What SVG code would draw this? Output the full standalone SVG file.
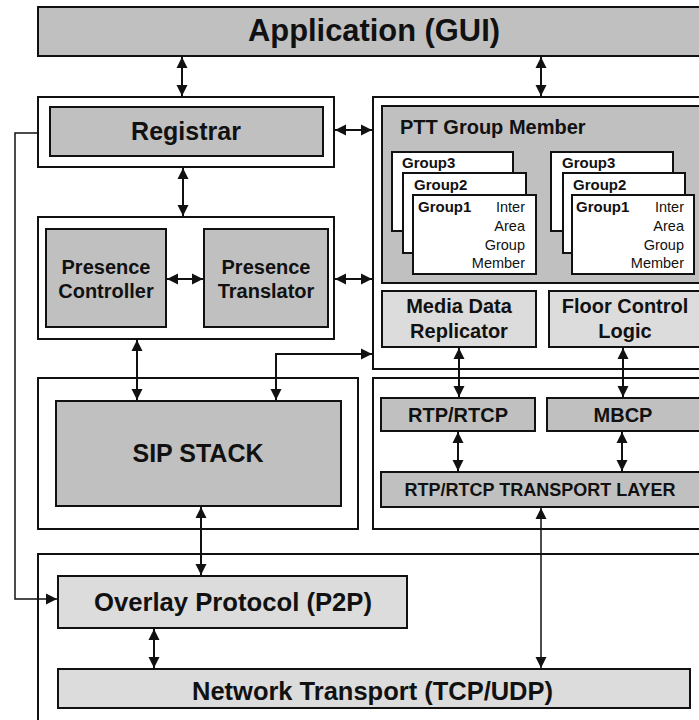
<svg xmlns="http://www.w3.org/2000/svg" width="699" height="720" viewBox="0 0 699 720">
  <style>
    .frame { fill: #ffffff; stroke: #111111; stroke-width: 2; }
    .dark { fill: #c0c0c0; stroke: #111111; stroke-width: 2; }
    .light { fill: #dcdcdc; stroke: #111111; stroke-width: 2; }
    .card { fill: #ffffff; stroke: #111111; stroke-width: 2; }
    .t { font-family: "Liberation Sans", Arial, sans-serif; font-weight: bold; fill: #111111; text-anchor: middle; }
    .s { font-family: "Liberation Sans", Arial, sans-serif; font-weight: bold; fill: #111111; }
    .g { font-family: "Liberation Sans", Arial, sans-serif; font-weight: bold; fill: #111111; font-size: 15px; }
    .r { font-family: "Liberation Sans", Arial, sans-serif; fill: #111111; font-size: 14.5px; text-anchor: end; }
    .wire { fill: none; stroke: #111111; stroke-width: 2; }
    .thin { fill: none; stroke: #111111; stroke-width: 1.5; }
  </style>
  <defs>
    <marker id="head" markerUnits="userSpaceOnUse" markerWidth="12" markerHeight="12" refX="11" refY="5.5" orient="auto-start-reverse" viewBox="0 0 12 11">
      <path d="M0,0 L11,5.5 L0,11 z" fill="#111111"/>
    </marker>
  </defs>

  <g id="application">
    <rect class="dark" x="38" y="7" width="670" height="49"/>
    <text class="s" x="248" y="41" font-size="31" textLength="252" lengthAdjust="spacingAndGlyphs">Application (GUI)</text>
  </g>

  <g id="registrar">
    <rect class="frame" x="38" y="97" width="296" height="70"/>
    <rect class="dark" x="50" y="107" width="273" height="49"/>
    <text class="t" x="186" y="140" font-size="25">Registrar</text>
  </g>

  <g id="presence">
    <rect class="frame" x="38" y="217" width="296" height="122"/>
    <g id="presence-controller">
      <rect class="dark" x="46" y="229" width="120" height="98"/>
      <text class="t" x="106" y="274" font-size="20">Presence</text>
      <text class="t" x="106" y="298" font-size="20">Controller</text>
    </g>
    <g id="presence-translator">
      <rect class="dark" x="204" y="229" width="124" height="98"/>
      <text class="t" x="266" y="274" font-size="20">Presence</text>
      <text class="t" x="266" y="298" font-size="20">Translator</text>
    </g>
  </g>

  <g id="ptt">
    <rect class="frame" x="373" y="97" width="340" height="272"/>
    <g id="ptt-group-member">
      <rect class="dark" x="382" y="106" width="330" height="177"/>
      <text class="s" x="400" y="134" font-size="20">PTT Group Member</text>
      <g id="groups-a">
        <rect class="card" x="392" y="152" width="121" height="79"/>
        <text class="g" x="402" y="168">Group3</text>
        <rect class="card" x="403" y="173" width="123" height="80"/>
        <text class="g" x="414" y="190">Group2</text>
        <rect class="card" x="413" y="195" width="123" height="79"/>
        <text class="g" x="418" y="212">Group1</text>
        <text class="r" x="525" y="212">Inter</text>
        <text class="r" x="525" y="231">Area</text>
        <text class="r" x="525" y="250">Group</text>
        <text class="r" x="525" y="268">Member</text>
      </g>
      <g id="groups-b">
        <rect class="card" x="551" y="152" width="122" height="79"/>
        <text class="g" x="562" y="168">Group3</text>
        <rect class="card" x="563" y="173" width="122" height="80"/>
        <text class="g" x="573" y="190">Group2</text>
        <rect class="card" x="572" y="195" width="122" height="79"/>
        <text class="g" x="576" y="212">Group1</text>
        <text class="r" x="684" y="212">Inter</text>
        <text class="r" x="684" y="231">Area</text>
        <text class="r" x="684" y="250">Group</text>
        <text class="r" x="684" y="268">Member</text>
      </g>
    </g>
    <g id="media-data-replicator">
      <rect class="light" x="382" y="291" width="154" height="56"/>
      <text class="t" x="459" y="313" font-size="20">Media Data</text>
      <text class="t" x="459" y="338" font-size="20">Replicator</text>
    </g>
    <g id="floor-control-logic">
      <rect class="light" x="549" y="291" width="160" height="56"/>
      <text class="t" x="625" y="313" font-size="20">Floor Control</text>
      <text class="t" x="625" y="338" font-size="20">Logic</text>
    </g>
  </g>

  <g id="sip">
    <rect class="frame" x="38" y="378" width="320" height="151"/>
    <rect class="dark" x="56" y="401" width="285" height="105"/>
    <text class="t" x="198" y="462" font-size="25">SIP STACK</text>
  </g>

  <g id="rtp">
    <rect class="frame" x="373" y="378" width="340" height="151"/>
    <g id="rtp-rtcp">
      <rect class="dark" x="381" y="398" width="154" height="33"/>
      <text class="t" x="458" y="422" font-size="20">RTP/RTCP</text>
    </g>
    <g id="mbcp">
      <rect class="dark" x="547" y="398" width="160" height="33"/>
      <text class="t" x="623" y="422" font-size="20">MBCP</text>
    </g>
    <g id="transport-layer">
      <rect class="dark" x="381" y="472" width="330" height="35"/>
      <text class="t" x="540" y="496" font-size="18">RTP/RTCP TRANSPORT LAYER</text>
    </g>
  </g>

  <g id="network">
    <rect class="frame" x="38" y="554" width="680" height="180"/>
    <g id="overlay-protocol">
      <rect class="light" x="58" y="576" width="349" height="52"/>
      <text class="s" x="94" y="611" font-size="25" textLength="278" lengthAdjust="spacingAndGlyphs">Overlay Protocol (P2P)</text>
    </g>
    <g id="network-transport">
      <rect class="light" x="58" y="669" width="632" height="39"/>
      <text class="s" x="192" y="700" font-size="25" textLength="361" lengthAdjust="spacingAndGlyphs">Network Transport (TCP/UDP)</text>
    </g>
  </g>

  <g id="connectors">
    <line class="wire" x1="182" y1="57" x2="182" y2="96" marker-start="url(#head)" marker-end="url(#head)"/>
    <line class="wire" x1="541" y1="57" x2="541" y2="96" marker-start="url(#head)" marker-end="url(#head)"/>
    <line class="wire" x1="335" y1="130" x2="372" y2="130" marker-start="url(#head)" marker-end="url(#head)"/>
    <line class="wire" x1="183" y1="168" x2="183" y2="216" marker-start="url(#head)" marker-end="url(#head)"/>
    <line class="wire" x1="167" y1="279" x2="203" y2="279" marker-start="url(#head)" marker-end="url(#head)"/>
    <line class="wire" x1="335" y1="279" x2="372" y2="279" marker-start="url(#head)" marker-end="url(#head)"/>
    <line class="wire" x1="137" y1="340" x2="137" y2="400" marker-start="url(#head)" marker-end="url(#head)"/>
    <polyline class="wire" points="276,400 276,354 372,354" marker-start="url(#head)" marker-end="url(#head)"/>
    <line class="wire" x1="459" y1="348" x2="459" y2="397" marker-start="url(#head)" marker-end="url(#head)"/>
    <line class="wire" x1="623" y1="348" x2="623" y2="397" marker-start="url(#head)" marker-end="url(#head)"/>
    <line class="wire" x1="458" y1="432" x2="458" y2="471" marker-start="url(#head)" marker-end="url(#head)"/>
    <line class="wire" x1="622" y1="432" x2="622" y2="471" marker-start="url(#head)" marker-end="url(#head)"/>
    <line class="wire" x1="201" y1="507" x2="201" y2="575" marker-start="url(#head)" marker-end="url(#head)"/>
    <line class="thin" x1="541" y1="508" x2="541" y2="668" marker-start="url(#head)" marker-end="url(#head)"/>
    <line class="wire" x1="154" y1="629" x2="154" y2="668" marker-start="url(#head)" marker-end="url(#head)"/>
    <polyline class="thin" points="37,133 15,133 15,599 57,599" marker-end="url(#head)"/>
  </g>
</svg>
